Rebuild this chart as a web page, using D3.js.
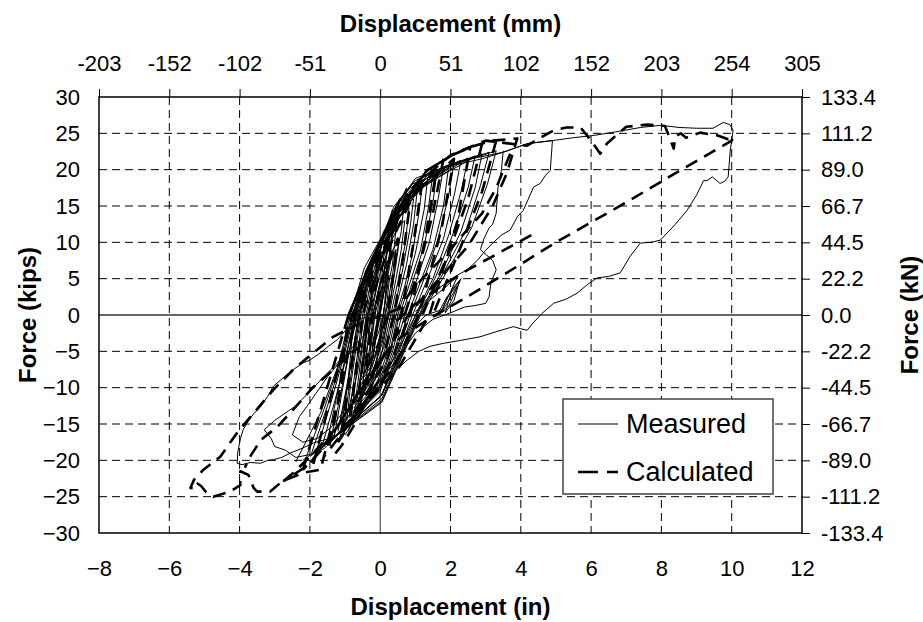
<!DOCTYPE html>
<html lang="en">
<head>
<meta charset="utf-8">
<title>Force - Displacement</title>
<script src="https://cdn.jsdelivr.net/npm/d3@7"></script>
<style>
  body { margin: 0; background: #fff; }
  svg text { font-family: "Liberation Sans", Arial, sans-serif; fill: #000; }
  .axis text { font-size: 22px; }
  .axis path.domain { display: none; }
  .axis line { stroke: #000; }
  .title { font-size: 24px; font-weight: bold; }
  .grid { stroke: #000; stroke-width: 1; stroke-dasharray: 8,5; }
  .measured { fill: none; stroke: #000; stroke-width: 1; stroke-linejoin: round; }
  .calculated { fill: none; stroke: #000; stroke-width: 2.6; stroke-dasharray: 13,8; stroke-linejoin: round; }
</style>
</head>
<body>
<svg id="chart" width="923" height="622"></svg>
<script>
  // ticks and labels
  const xTicks = [-8, -6, -4, -2, 0, 2, 4, 6, 8, 10, 12];
  const yTicks = [-30, -25, -20, -15, -10, -5, 0, 5, 10, 15, 20, 25, 30];
  const mmLabels = ["-203", "-152", "-102", "-51", "0", "51", "102", "152", "203", "254", "305"];
  const knLabels = ["-133.4", "-111.2", "-89.0", "-66.7", "-44.5", "-22.2", "0.0", "22.2", "44.5", "66.7", "89.0", "111.2", "133.4"];

  // measured cycles (in, kips)
  const measuredSmall = [
    [[-0.2,-4],[-0.1,-1.5],[-0.05,0],[0.1,3],[0.25,5.5],[0.18,3],[0.08,0],[-0.05,-2.5],[-0.22,-4.5]],
    [[-0.35,-7],[-0.25,-4],[-0.15,0],[0.05,4],[0.25,7],[0.45,9],[0.35,5.5],[0.25,2.5],[0.15,0],[0.02,-3],[-0.15,-5.5],[-0.38,-7.5]],
    [[-0.42,-8],[-0.3,-4.5],[-0.2,0],[0,4.5],[0.3,8.5],[0.55,10.5],[0.45,7],[0.3,2.5],[0.2,0],[0.05,-3.5],[-0.2,-6.5],[-0.45,-8.5]],
    [[-0.5,-9.5],[-0.4,-6],[-0.25,0],[-0.05,5],[0.25,9.5],[0.5,12],[0.7,13],[0.6,9],[0.45,5],[0.25,0],[0.05,-4],[-0.2,-7.5],[-0.52,-10]],
    [[-0.6,-10.5],[-0.48,-6.5],[-0.32,0],[-0.1,5.5],[0.2,10],[0.55,13.5],[0.82,14.8],[0.72,10],[0.5,4.5],[0.3,0],[0.1,-4.5],[-0.25,-8.5],[-0.62,-11]],
    [[-0.65,-11.5],[-0.55,-8],[-0.45,-4],[-0.35,0],[-0.15,5],[0.15,10],[0.5,14],[0.95,16],[0.85,12],[0.65,6.5],[0.5,3],[0.35,0],[0.15,-4.5],[-0.15,-8.5],[-0.68,-12]],
    [[-0.72,-12.3],[-0.6,-8],[-0.5,-4],[-0.4,0],[-0.2,5],[0.1,10.5],[0.45,14.5],[1.05,17],[0.95,12.5],[0.75,7],[0.55,3],[0.4,0],[0.2,-4.5],[-0.15,-9],[-0.75,-12.8]],
    [[-0.8,-13],[-0.7,-9],[-0.6,-5],[-0.45,0],[-0.25,5],[0.05,10],[0.45,15],[0.85,17.5],[1.2,18],[1.1,14],[0.9,8],[0.7,4],[0.45,0],[0.25,-4.5],[-0.1,-9.5],[-0.82,-13.5]],
    [[-0.88,-13.8],[-0.75,-9],[-0.62,-4.5],[-0.5,0],[-0.3,5],[0.0,10],[0.4,15],[0.9,18],[1.35,18.8],[1.25,14.5],[1.0,8.5],[0.75,4],[0.5,0],[0.28,-5],[-0.1,-10],[-0.9,-14.2]]
  ];
  const measuredJagged = [
    [[-0.3,-8],[-0.2,-5.5],[-0.22,-4],[-0.1,-1],[-0.05,1.5],[0.05,3.5],[0.1,6],[0.2,8.5],[0.28,11],[0.38,13],[0.3,10],[0.32,8],[0.2,5],
     [0.15,2],[0.05,-1],[0.0,-3.5],[-0.1,-6],[-0.2,-8.5],[-0.35,-10.5]],
    [[-0.45,-11],[-0.4,-8.5],[-0.3,-6],[-0.25,-3],[-0.15,0],[-0.1,2.5],[0.05,5.5],[0.1,8],[0.25,11],[0.4,14],[0.55,16],[0.48,13],[0.42,10.5],
     [0.35,7],[0.25,4.5],[0.2,2],[0.1,-1],[0.0,-4],[-0.1,-6.5],[-0.2,-9],[-0.4,-12]],
    [[-0.6,-13.5],[-0.5,-10],[-0.45,-7],[-0.35,-3.5],[-0.3,-0.5],[-0.15,3],[-0.05,6],[0.1,9],[0.3,12.5],[0.55,15.5],[0.75,17.5],[0.65,14],
     [0.6,11.5],[0.45,8],[0.38,5],[0.3,2],[0.18,-1.5],[0.05,-5],[-0.1,-8],[-0.3,-11],[-0.6,-14]],
    [[-0.2,-6],[-0.12,-3],[0.0,0.5],[0.1,4],[0.22,7],[0.3,9.5],[0.22,6],[0.15,3],[0.1,0],[0.0,-2.5],[-0.1,-5],[-0.25,-7.5]],
    [[-0.5,-7],[-0.42,-4],[-0.45,-2],[-0.3,1],[-0.25,3],[-0.1,6.5],[0.0,9],[0.2,12],[0.35,14.5],[0.25,11.5],[0.2,9],[0.1,5.5],[0.05,3],
     [-0.05,0],[-0.15,-3],[-0.3,-6.5],[-0.55,-9]],
    [[-0.9,-16],[-0.7,-12.5],[-0.6,-9.5],[-0.45,-6],[-0.4,-3],[-0.2,0.5],[0,4],[0.2,7.5],[0.15,4.5],[0.05,1.5],[-0.1,-2],[-0.2,-5.5],
     [-0.35,-9],[-0.55,-12],[-0.8,-15]],
    [[-1.2,-17.5],[-0.95,-14],[-0.8,-11],[-0.65,-8],[-0.55,-5],[-0.45,-2],[-0.3,1.5],[-0.15,4.5],[0.0,7.5],[0.2,10],[0.4,12.5],[0.3,9.5],
     [0.2,6],[0.1,3],[0.0,0],[-0.15,-4],[-0.3,-8],[-0.55,-11.5],[-0.85,-14.5],[-1.1,-16.5]]
  ];
  const measuredMid = [
    [[-0.95,-14.5],[-0.85,-10],[-0.7,-5],[-0.55,0],[-0.3,5.5],[0.05,10.5],[0.5,15.5],[1.0,18.5],[1.5,19.5],[1.38,15],[1.15,9],[0.85,4.5],[0.55,0],[0.3,-5],[-0.05,-10],[-0.98,-15]],
    [[-1.02,-15],[-0.9,-10.5],[-0.75,-5.5],[-0.58,0],[-0.35,5],[0.0,10],[0.45,15],[1.0,18.8],[1.62,19.9],[1.5,15.5],[1.25,9.5],[0.95,5],[0.62,0],[0.35,-5],[-0.05,-10.5],[-1.05,-15.5]],
    [[-1.1,-15.5],[-0.95,-10.5],[-0.8,-5.5],[-0.6,0],[-0.35,5],[0.05,10.5],[0.55,15.5],[1.2,19],[1.8,20.3],[1.65,16],[1.4,10],[1.05,5],[0.7,0],[0.4,-5],[0,-10.5],[-1.15,-16]],
    [[-1.3,-16.5],[-1.1,-11],[-0.9,-5.5],[-0.65,0],[-0.35,5.5],[0.1,11],[0.7,16],[1.4,19.5],[2.1,21],[1.95,16.5],[1.65,10.5],[1.25,5],[0.85,0],[0.5,-5],[0.05,-11],[-1.35,-17]],
    [[-1.4,-17],[-1.15,-11.5],[-0.92,-5.8],[-0.68,0],[-0.38,5.5],[0.08,11],[0.75,16],[1.5,19.7],[2.3,21.3],[2.12,16.8],[1.8,10.5],[1.35,5],[0.92,0],[0.52,-5.3],[0.05,-11],[-1.45,-17.5]],
    [[-1.5,-17.3],[-1.25,-11.5],[-1.0,-6],[-0.7,0],[-0.4,5.5],[0.15,11.5],[0.85,16.5],[1.7,20],[2.5,21.6],[2.3,17],[1.95,11],[1.5,5],[1.0,0],[0.55,-5.5],[0.05,-11],[-1.55,-17.8]],
    [[-1.8,-18.5],[-1.4,-12],[-1.05,-6],[-0.75,0],[-0.4,6],[0.2,12],[1.0,17],[2.0,20.5],[2.9,22.2],[2.7,17.5],[2.3,11.5],[1.7,5.5],[1.1,0],[0.6,-5.5],[0.05,-11.5],[-1.85,-19]],
    [[-1.95,-19],[-1.5,-12.5],[-1.1,-6.3],[-0.78,0],[-0.42,6],[0.2,12.3],[1.1,17.3],[2.15,20.8],[3.1,22.4],[2.85,17.8],[2.45,11.8],[1.8,5.8],[1.12,0],[0.6,-5.8],[0.05,-11.8],[-2.0,-19.5]],
    [[-2.1,-19.5],[-1.6,-13],[-1.15,-6.5],[-0.8,0],[-0.4,6],[0.25,12.5],[1.2,17.5],[2.3,21],[3.3,22.6],[3.05,18],[2.6,12],[1.9,6],[1.15,0],[0.6,-6],[0.05,-12],[-2.2,-20]],
    [[-1.2,-16],[-1.0,-11],[-0.8,-6],[-0.62,0],[-0.3,6],[0.1,11.5],[0.65,15.8],[1.25,18.6],[1.95,20.5],[1.8,15],[1.5,9],[1.1,4],[0.78,0],[0.42,-5.5],[0.0,-10],[-1.25,-16.5]],
    [[-1.65,-18],[-1.3,-12],[-1.0,-6.5],[-0.72,0],[-0.45,5],[0.1,11],[0.9,16.8],[1.85,20.3],[2.7,21.9],[2.5,17.5],[2.1,11.5],[1.6,5.5],[1.05,0],[0.55,-5.8],[0.0,-11.3],[-1.7,-18.5]]
  ];
  const measuredLarge = [
    [[-2.4,-20.2],[-1.7,-13.5],[-1.2,-7],[-0.85,0],[-0.45,6.5],[0.3,13],[1.3,18],[2.6,21.5],[3.5,22.4],[4.2,23.6],[4.9,24],[4.84,19.9],[4.7,19.2],[4.55,18.1],
     [4.36,17.6],[4.2,15.8],[4.07,14.4],[3.9,13.5],[3.7,11.7],[3.45,11],[3.2,9.9],[3.0,8.9],[2.76,7.5],[2.47,6.2],[2.2,5.5],[2.0,4.8],
     [1.6,3.5],[1.2,1.5],[0.9,-1],[0.5,-5],[0,-9.5]],
    [[1.0,0],[0.5,-0.6],[0,-0.5],[-0.4,-0.3],[-0.77,-0.9],[-1.0,-2.2],[-1.22,-3.4],[-1.5,-4.4],[-1.7,-5.2],[-2.0,-6.2],[-2.2,-6.6],[-2.47,-7.5],
     [-2.75,-8.6],[-3.04,-9.8],[-3.2,-11.2],[-3.4,-12.6],[-3.6,-13.6],[-3.78,-14.8],[-3.9,-15.8],[-3.98,-17.1],[-4.05,-18.8],[-4.07,-20.4],
     [-3.93,-20.6],[-3.7,-20.3],[-3.4,-20.4],[-3.2,-20],[-3.04,-19.9],[-2.8,-19.6],[-2.56,-19.0],[-2.2,-18.3],[-1.9,-17.6],[-1.6,-17.2],
     [-1.34,-16.8],[-1.1,-14],[-0.94,-10],[-0.85,-6],[-0.75,0],[-0.4,6],[0.2,12],[1.0,17],[2.0,20.5],[2.9,21.5],
     [3.5,22.4],[4.2,23.6],[4.9,24],[5.5,24.4],[6.06,24.7],[6.7,25.2],[7.4,25.8],[7.97,26.1],[8.53,25.8],[9.0,25.7],[9.47,25.7],[9.76,26.5],
     [9.95,26.2],[10.04,25.4],[9.96,22.7],[9.9,19.0],[9.8,18.4],[9.67,18.1],[9.55,18.6],[9.45,19],[9.3,18.5],[9.2,18.5],[9.0,16.5],[8.73,14.4],
     [8.4,12.5],[7.97,10.3],[7.7,10],[7.4,9.9],[7.1,8],[6.83,5.8],[6.5,5.3],[6.17,5.1],[5.9,4.2],[5.6,3.0],[5.3,2.2],[4.93,1.6],[4.6,0.2],
     [4.35,-1.1],[4.18,-2.1],[4.0,-1.9],[3.79,-1.6],[3.3,-2.3],[2.84,-3.0],[2.28,-3.5],[1.8,-3.9],[1.42,-4.3],[1.1,-5],[0.77,-6.2],
     [0.4,-7.8],[0,-9.7],[-0.4,-12.5],[-0.8,-15],[-1.0,-16.5]],
    [[3.5,22.6],[3.45,20],[3.35,17.5],[3.3,14],[3.2,12.5],[3.1,12],[2.95,10.5],[2.85,9],[3.2,7.5],[3.3,6.2],[3.15,4.5],[3.1,2.5],[3.0,1.6],
     [2.7,1.3],[2.4,1.1],[2.0,0.3],[1.5,-0.6],[1.0,-2.5],[0.5,-6],[0,-9]],
    [[1.0,0.5],[1.4,2],[1.8,3.6],[2.2,5.3],[2.0,3.2],[1.75,0.6],[1.95,2.8],[2.25,4.6],[2.1,2],[1.85,0.3],[2.05,3.6],[2.3,5.0],[1.95,1.2],
     [1.6,-0.2],[1.9,2.5],[2.2,4.0],[1.8,0.8],[1.3,0],[0.9,-2]],
    [[-0.5,-4],[-1.2,-6.5],[-1.8,-9.5],[-2.4,-12.5],[-3.0,-14.5],[-3.3,-15.8],[-3.1,-17],[-3.0,-18.1],[-2.7,-18.6],[-2.4,-19.6],[-2.0,-19.2],
     [-1.6,-18.4],[-1.2,-16.5],[-0.8,-13]],
    [[-0.3,-2],[-0.9,-5],[-1.5,-8.5],[-2.0,-12],[-2.3,-14],[-2.5,-16.5],[-2.2,-17.5],[-1.8,-17],[-1.4,-15.5],[-1.0,-13]]
  ];

  // calculated cycles (in, kips)
  const calculatedSmall = [
    [[-0.4,-7],[-0.2,0],[0.1,5.5],[0.5,10.5],[0.35,5],[0.2,0],[-0.05,-4],[-0.45,-8]],
    [[-0.6,-11],[-0.35,0],[0.0,6],[0.4,11],[0.85,15.5],[0.65,8],[0.4,0],[0.1,-5.5],[-0.65,-12]],
    [[-0.85,-14],[-0.5,0],[-0.1,6],[0.5,13],[1.2,18.5],[0.95,10],[0.6,0],[0.2,-6],[-0.9,-15]],
    [[-1.1,-16],[-0.6,0],[-0.1,7],[0.6,14.5],[1.6,20],[1.3,11],[0.85,0],[0.3,-6.5],[-1.2,-17.5]],
    [[-1.45,-18],[-0.7,0],[-0.1,7.5],[0.8,16],[2.1,21.5],[1.75,12],[1.1,0],[0.4,-7],[-1.6,-19.5]],
    [[-1.9,-20.5],[-0.8,0],[-0.1,8],[0.95,17.6],[1.33,19.9],[2.05,22],[2.56,23.1],[2.2,13],[1.4,0],[0.5,-7.5],[-2.2,-21.3]]
  ];
  const calculatedLarge = [
    [[-2.2,-21.3],[-0.9,0],[-0.2,8],[0.6,15],[1.33,19.9],[2.05,22],[2.56,23.1],[3.2,24],[3.9,24.3],[3.6,19.5],[3.2,15],[2.5,9.5],
     [1.5,4],[0.8,0],[0.2,-5],[-1.22,-15.4],[-2.0,-20.5],[-2.76,-22.9]],
    [[0.6,1],[-0.2,-0.5],[-0.77,-1.6],[-1.34,-3.0],[-1.9,-5.2],[-2.47,-7.5],[-3.04,-10.3],[-3.6,-13.5],[-4.07,-16.2],[-4.55,-19.5],
     [-5.03,-21.3],[-5.3,-22.7],[-5.4,-23.8],[-5.25,-23.9],[-5.2,-23.2],[-5.1,-23.5],[-4.95,-24.4],[-4.75,-25.0],[-4.27,-24.3],[-3.98,-23.4],
     [-3.98,-21.5],[-3.75,-22],[-3.6,-23.8],[-3.5,-24.3],[-3.13,-24.3],[-2.79,-22.9],[-2.19,-21.7],[-1.7,-21.3],[-1.2,-12],[-0.9,0],
     [-0.2,8],[0.8,17],[2.0,22],[3.0,24],[4.18,23.3],[4.6,24.5],[4.93,25.4],[5.3,25.8],[5.7,25.8],[6.0,24.0],[6.26,22.2],[6.35,22.8],
     [6.45,23.6],[7.0,25.9],[7.6,26.2],[8.1,26.0],[8.2,24.8],[8.35,22.9],[8.4,24.6],[8.55,25.0],[8.7,24.4],[9.1,25.1],[9.6,24.7],
     [9.9,24.2],[10.04,24.6],[10.0,24.0],[8.5,19.8],[7,15.5],[5,10],[3.6,5.8],[2.3,2.0],[1.4,-0.5],[0.6,-3.0],[0,-6],[-0.6,-11]],
    [[4.3,11],[3.4,8.6],[2.56,6.4],[1.8,4.2],[1.0,1.5],[0.3,-1.5]],
    [[3.7,22.2],[3.3,17.5],[2.9,14],[2.47,11.7],[1.9,8.5],[1.2,5],[0.5,1]],
    [[2.9,23.6],[2.5,16],[1.9,8],[1.2,0]],
    [[3.3,24],[2.9,17],[2.3,9.5],[1.5,0]],
    [[1.8,21.5],[1.5,14],[1.1,6.5],[0.7,0]],
    [[-0.5,-4],[-1.9,-9.9],[-2.47,-13.0],[-2.93,-15.4],[-3.4,-17.2],[-3.7,-19.5],[-3.85,-21]],
    [[-0.3,-8],[-1.22,-15.4],[-2.0,-19.5],[-2.47,-21.7],[-2.76,-22.9]],
    [[-0.2,-10],[-0.77,-15.4],[-1.1,-18],[-1.42,-19.9]]
  ];

  const margin = { top: 97, right: 121, bottom: 89, left: 99 },
        width = 923 - margin.left - margin.right,
        height = 622 - margin.top - margin.bottom;

  const svg = d3.select("#chart");
  const g = svg.append("g").attr("transform", `translate(${margin.left},${margin.top})`);

  const x = d3.scaleLinear().domain([-8, 12]).range([0, width]);
  const y = d3.scaleLinear().domain([-30, 30]).range([height, 0]);

  // grid
  g.selectAll("line.gx").data(xTicks.filter(d => d !== 0 && d !== -8 && d !== 12)).enter()
    .append("line").attr("class", "grid")
    .attr("x1", d => x(d)).attr("x2", d => x(d)).attr("y1", 0).attr("y2", height);
  g.selectAll("line.gy").data(yTicks.filter(d => d !== 0 && Math.abs(d) !== 30)).enter()
    .append("line").attr("class", "grid")
    .attr("y1", d => y(d)).attr("y2", d => y(d)).attr("x1", 0).attr("x2", width);

  // zero lines
  g.append("line").attr("x1", 0).attr("x2", width).attr("y1", y(0)).attr("y2", y(0))
    .attr("stroke", "#666").attr("stroke-width", 2);
  g.append("line").attr("x1", x(0)).attr("x2", x(0)).attr("y1", 0).attr("y2", height)
    .attr("stroke", "#333").attr("stroke-width", 1);

  // curves
  g.append("clipPath").attr("id", "clip").append("rect").attr("width", width).attr("height", height);
  const line = d3.line().x(d => x(d[0])).y(d => y(d[1]));
  const plot = g.append("g").attr("clip-path", "url(#clip)");

  plot.selectAll("path.measured").data(measuredSmall.concat(measuredJagged, measuredMid, measuredLarge)).enter()
    .append("path").attr("class", "measured").attr("d", line);
  plot.selectAll("path.calculated").data(calculatedSmall.concat(calculatedLarge)).enter()
    .append("path").attr("class", "calculated").attr("d", line);

  // axes
  g.append("g").attr("class", "axis")
    .attr("transform", `translate(0,${height})`)
    .call(d3.axisBottom(x).tickValues(xTicks).tickSize(0).tickPadding(27));
  g.append("g").attr("class", "axis")
    .call(d3.axisLeft(y).tickValues(yTicks).tickSize(0).tickPadding(19));
  g.append("g").attr("class", "axis")
    .call(d3.axisTop(x).tickValues(xTicks).tickSize(8).tickPadding(18)
      .tickFormat((d, i) => mmLabels[i]));
  g.append("g").attr("class", "axis")
    .attr("transform", `translate(${width},0)`)
    .call(d3.axisRight(y).tickValues(yTicks).tickSize(8).tickPadding(11)
      .tickFormat((d, i) => knLabels[i]));

  // border
  g.append("rect").attr("width", width).attr("height", height)
    .attr("fill", "none").attr("stroke", "#000").attr("stroke-width", 1.5);

  // titles
  svg.append("text").attr("class", "title").attr("text-anchor", "middle")
    .attr("x", margin.left + width / 2).attr("y", 32).text("Displacement (mm)");
  svg.append("text").attr("class", "title").attr("text-anchor", "middle")
    .attr("x", margin.left + width / 2).attr("y", 615).text("Displacement (in)");
  svg.append("text").attr("class", "title").attr("text-anchor", "middle")
    .attr("transform", `translate(36,${margin.top + height / 2}) rotate(-90)`).text("Force (kips)");
  svg.append("text").attr("class", "title").attr("text-anchor", "middle")
    .attr("transform", `translate(918,${margin.top + height / 2}) rotate(-90)`).text("Force (kN)");

  // legend
  const legend = svg.append("g").attr("transform", "translate(563,399)");
  legend.append("rect").attr("width", 210).attr("height", 95)
    .attr("fill", "#fff").attr("stroke", "#444").attr("stroke-width", 1.5);
  legend.append("line").attr("x1", 15).attr("x2", 55).attr("y1", 25).attr("y2", 25)
    .attr("stroke", "#000").attr("stroke-width", 1);
  legend.append("line").attr("x1", 15).attr("x2", 55).attr("y1", 73).attr("y2", 73)
    .attr("stroke", "#000").attr("stroke-width", 2.6).attr("stroke-dasharray", "20,9");
  legend.append("text").attr("x", 63).attr("y", 34).style("font-size", "27px").text("Measured");
  legend.append("text").attr("x", 63).attr("y", 82).style("font-size", "27px").text("Calculated");
</script>
</body>
</html>
